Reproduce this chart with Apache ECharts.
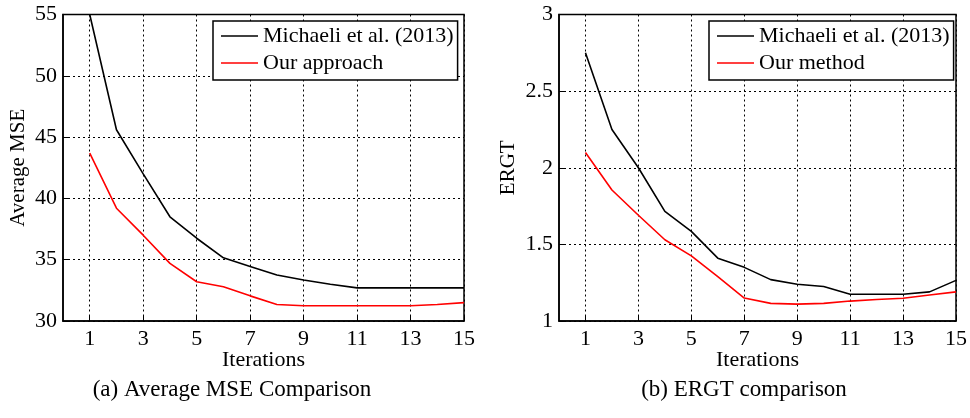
<!DOCTYPE html>
<html lang="en">
<head>
    <meta charset="utf-8">
    <title>MSE / ERGT comparison</title>
    <script src="https://cdn.jsdelivr.net/npm/echarts@6/dist/echarts.min.js"></script>
</head>
<body style="margin:0;">
<div id="main" style="width: 970px;height:418px;"></div>
<script type="text/javascript">
    // data
    var iterations = [1,2,3,4,5,6,7,8,9,10,11,12,13,14,15];
    var xTicks = [1,3,5,7,9,11,13,15];
    var mseMichaeli = [55,45.6,42.0,38.5,36.75,35.15,34.45,33.75,33.35,33.0,32.7,32.7,32.7,32.7,32.7];
    var mseOurs = [43.7,39.2,37.0,34.7,33.2,32.8,32.05,31.35,31.25,31.25,31.25,31.25,31.25,31.35,31.5];
    var ergtMichaeli = [2.75,2.25,2.0,1.715,1.585,1.41,1.35,1.27,1.24,1.225,1.175,1.175,1.175,1.19,1.265];
    var ergtOurs = [2.1,1.855,1.69,1.53,1.425,1.29,1.15,1.115,1.11,1.115,1.13,1.14,1.148,1.17,1.19];

    var font = '"Liberation Serif", "Times New Roman", serif';

    function pairs(ys){
        var out=[];
        for(var i=0;i<iterations.length;i++){
            out.push([iterations[i], ys[i]]);
        }
        return out;
    }

    function xAxisFor(idx){
        return {
            type:'value', gridIndex:idx, min:0, max:15,
            name:'Iterations', nameLocation:'middle', nameGap:28, nameMoveOverlap:false,
            nameTextStyle:{fontFamily:font, fontSize:22, color:'#000'},
            axisLine:{lineStyle:{color:'#000', width:1.5}},
            axisTick:{inside:true, length:5, customValues:xTicks, lineStyle:{color:'#000'}},
            axisLabel:{customValues:xTicks, margin:7, fontFamily:font, fontSize:22, color:'#000'},
            splitLine:{show:true, lineStyle:{color:'#000', type:[2,3], width:1}}
        };
    }

    function yAxisFor(idx, name, min, max, step, gap){
        return {
            type:'value', gridIndex:idx, min:min, max:max, interval:step,
            name:name, nameLocation:'middle', nameGap:gap, nameMoveOverlap:false,
            nameTextStyle:{fontFamily:font, fontSize:21, color:'#000'},
            axisLine:{show:true, lineStyle:{color:'#000', width:1.5}},
            axisTick:{show:true, inside:true, length:5, lineStyle:{color:'#000'}},
            axisLabel:{margin:6, fontFamily:font, fontSize:22, color:'#000'},
            splitLine:{show:true, lineStyle:{color:'#000', type:[2,3], width:1}}
        };
    }

    function legendFor(left, names){
        return {
            left:left, top:21, orient:'vertical',
            data:names,
            icon:'rect',
            itemWidth:37, itemHeight:1.5, itemGap:5,
            padding:[4,4,6,8],
            borderColor:'#000', borderWidth:1.5, backgroundColor:'#fff',
            selectedMode:false,
            textStyle:{fontFamily:font, fontSize:22, color:'#000', lineHeight:22}
        };
    }

    function lineSeries(name, idx, ys, color){
        return {
            name:name, type:'line', xAxisIndex:idx, yAxisIndex:idx,
            data:pairs(ys), symbol:'none', animation:false,
            lineStyle:{color:color, width:1.6}, itemStyle:{color:color}
        };
    }

    var myChart = echarts.init(document.getElementById('main'));
    var option = {
        backgroundColor:'#fff',
        animation:false,
        title:[
            {text:'(a) Average MSE Comparison', left:227, top:373, textAlign:'center',
                textStyle:{fontFamily:font, fontSize:23, fontWeight:'normal', color:'#000'}},
            {text:'(b) ERGT comparison', left:739, top:373, textAlign:'center',
                textStyle:{fontFamily:font, fontSize:23, fontWeight:'normal', color:'#000'}}
        ],
        grid:[
            {left:63, right:506, top:14.5, bottom:97, show:true, borderColor:'#000', borderWidth:1.5},
            {left:559, right:10, top:14.5, bottom:97, show:true, borderColor:'#000', borderWidth:1.5}
        ],
        legend:[
            legendFor(213, ['Michaeli et al. (2013)', 'Our approach']),
            legendFor(709, ['Michaeli et al. (2013)', 'Our method'])
        ],
        xAxis:[xAxisFor(0), xAxisFor(1)],
        yAxis:[
            yAxisFor(0, 'Average MSE', 30, 55, 5, 34),
            yAxisFor(1, 'ERGT', 1, 3, 0.5, 40)
        ],
        series:[
            lineSeries('Michaeli et al. (2013)', 0, mseMichaeli, '#000'),
            lineSeries('Our approach', 0, mseOurs, '#ff0000'),
            lineSeries('Michaeli et al. (2013)', 1, ergtMichaeli, '#000'),
            lineSeries('Our method', 1, ergtOurs, '#ff0000')
        ]
    };

    myChart.setOption(option);
</script>
</body>
</html>
